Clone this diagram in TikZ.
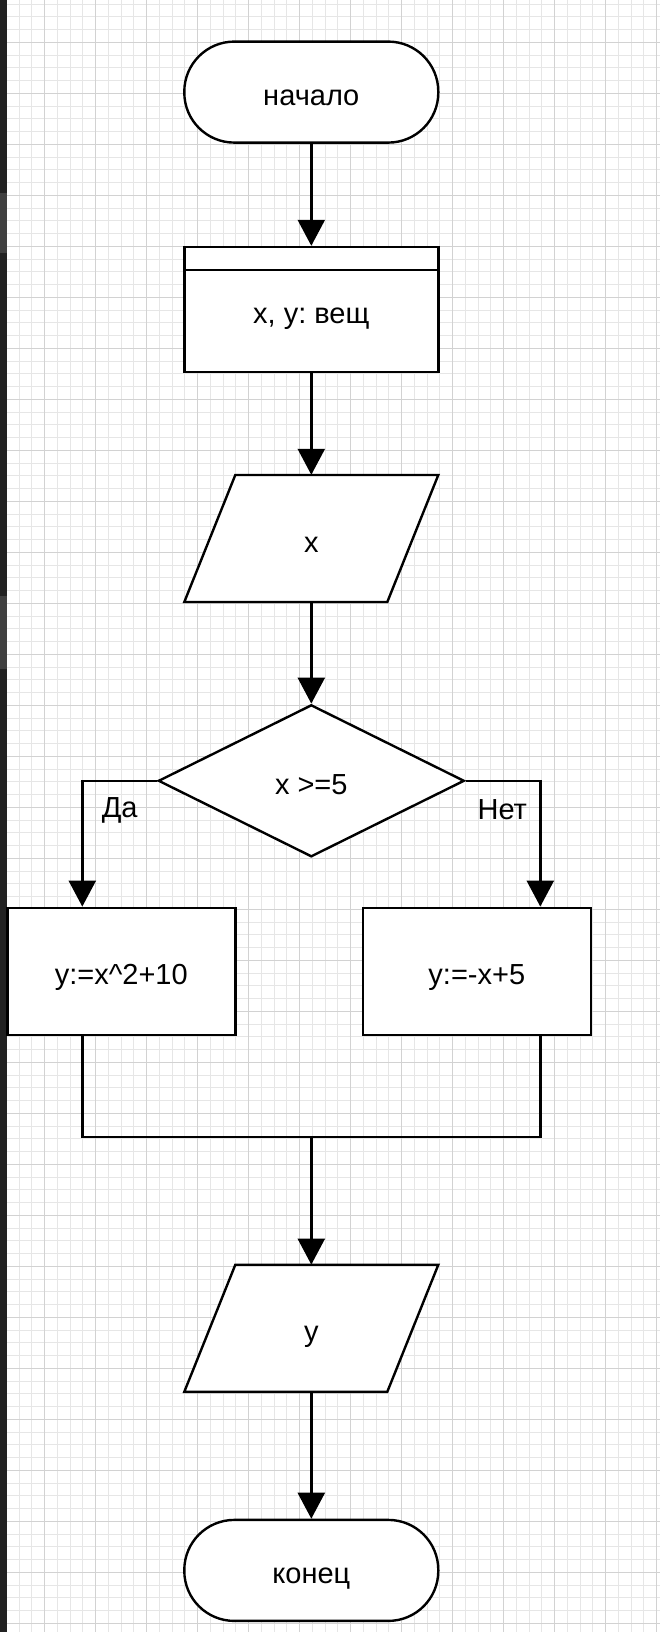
\documentclass[tikz,border=0pt]{standalone}
\usepackage{fontspec}
\setmainfont{Liberation Sans}
\usetikzlibrary{arrows.meta}
\usetikzlibrary{shapes.geometric}
\usetikzlibrary{positioning}
\frenchspacing

\definecolor{gridminor}{HTML}{E6E6E6}
\definecolor{gridmajor}{HTML}{D2D2D2}
\definecolor{sidebar}{HTML}{222222}
\definecolor{sidebarlight}{HTML}{404040}

\tikzset{
    blocktext/.style={inner sep=0pt, text height=27pt, text depth=0pt,
        font=\fontsize{29}{35}\selectfont},
    block/.style={blocktext, draw, line width=2.4pt, fill=white},
    terminal/.style={block, rectangle, rounded corners=50pt,
        minimum width=254pt, minimum height=101pt},
    declbox/.style={block, rectangle, minimum width=254pt, minimum height=125pt},
    iotext/.style={blocktext, rectangle, minimum width=254pt, minimum height=127pt},
    iobox/.style={draw, line width=2.4pt, fill=white, line join=miter},
    decision/.style={block, diamond, aspect=2, minimum width=306pt, minimum height=152pt},
    process/.style={block, rectangle, minimum width=228pt, minimum height=127pt},
    branchlbl/.style={font=\fontsize{29}{35}\selectfont, inner sep=0pt},
    line/.style={line width=2.4pt},
    arr/.style={line, -{Triangle[length=26pt,width=27pt]}},
}

\begin{document}
\begin{tikzpicture}[x=1pt, y=-1pt]
                \useasboundingbox (0,0) rectangle (660,1632);
                % background grid
                \fill[white] (0,0) rectangle (660,1632);
                \foreach \i in {0,...,51}
                    \draw[gridminor, line width=0.8pt] ({6.25+12.75*\i},0) -- ++(0,1632);
                \foreach \j in {0,...,128}
                    \draw[gridminor, line width=0.8pt] (0,{4+12.75*\j}) -- ++(660,0);
                \foreach \i in {0,...,12}
                    \draw[gridmajor, line width=0.8pt] ({44.5+51*\i},0) -- ++(0,1632);
                \foreach \j in {0,...,32}
                    \draw[gridmajor, line width=0.8pt] (0,{42.25+51*\j}) -- ++(660,0);
                \fill[sidebar] (0,0) rectangle (7,1632);
                \fill[sidebarlight] (0,193) rectangle (7,253);
                \fill[sidebarlight] (0,596) rectangle (7,669);

                % blocks
                \node[terminal] (start) at (311.3,92.1) {начало};
                \node[declbox] (decl) at (311.3,309.5) {x, y: вещ};
                \draw[line] ([yshift=-24pt]decl.north west) -- ([yshift=-24pt]decl.north east);
                \filldraw[iobox] (235.3,475) -- (438.3,475) -- (387.3,602) -- (184.3,602) -- cycle;
                \node[iotext] (inx) at (311.3,538.5) {x};
                \node[decision] (cond) at (311.3,780.8) {x >=5};
                \node[process] (yes) at (121.3,971.3) {y:=x\^{}2+10};
                \node[process] (no) at (476.8,971.3) {y:=-x+5};
                \filldraw[iobox] (235.3,1264.8) -- (438.3,1264.8) -- (387.3,1391.8) -- (184.3,1391.8) -- cycle;
                \node[iotext] (outy) at (311.3,1328.3) {y};
                \node[terminal] (stop) at (311.3,1570.4) {конец};
                \node[branchlbl] (yeslbl) at (119.7,810) {Да};
                \node[branchlbl] (nolbl) at (502.3,810) {Нет};

                % connectors
                \draw[arr] (start) -- (decl);
                \draw[arr] (decl) -- (inx);
                \draw[arr] (inx) -- (cond);
                \draw[arr] (cond.west) -| ([xshift=-39pt]yes.north);
                \draw[arr] (cond.east) -| ([xshift=63.5pt]no.north);
                \coordinate (yesout) at ([xshift=-39pt]yes.south);
                \coordinate (noout) at ([xshift=63.5pt]no.south);
                \coordinate (join) at (311.3,1136.8);
                \draw[line] (yesout) |- (join);
                \draw[line] (noout) |- (join);
                \draw[arr] (join) -- (outy);
                \draw[arr] (outy) -- (stop);
            \end{tikzpicture}
\end{document}
